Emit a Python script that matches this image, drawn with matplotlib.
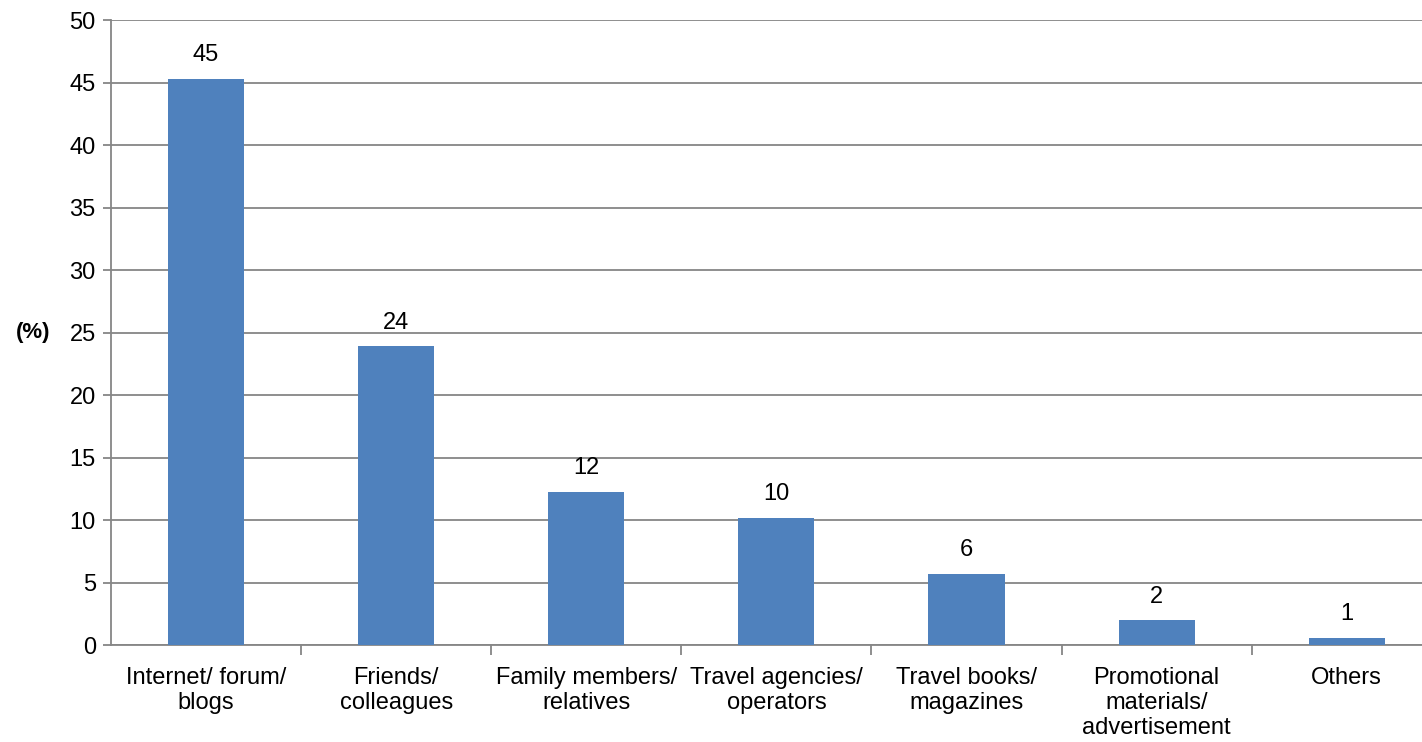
import matplotlib.pyplot as plt
import numpy as np

plt.rcParams['font.family'] = ['Liberation Sans', 'DejaVu Sans']

categories = ['Internet/ forum/\nblogs', 'Friends/\ncolleagues', 'Family members/\nrelatives',
              'Travel agencies/\noperators', 'Travel books/\nmagazines',
              'Promotional\nmaterials/\nadvertisement', 'Others']
shares = [45.3, 23.9, 12.25, 10.2, 5.7, 1.98, 0.58]

fig = plt.figure(figsize=(14.22, 7.42), dpi=100)
ax = fig.add_axes([0.0781, 0.1307, 0.9358, 0.8423])

x = np.arange(len(categories))
bars = ax.bar(x, shares, width=0.4, color='#4F81BD', zorder=3)

for xi, v in zip(x, shares):
    ax.annotate(f'{v:.0f}', (xi, v), xytext=(0, 9), textcoords='offset points',
                ha='center', va='bottom', fontsize=17)

ax.set_xlim(-0.5, len(categories) - 0.5)
ax.set_ylim(0, 50)
ax.set_yticks(np.arange(0, 51, 5))
ax.set_xticks(x)
ax.set_xticklabels(categories, fontsize=17, linespacing=1.17)
ax.set_xticks(np.arange(0.5, len(categories) - 0.5), minor=True)
ax.tick_params(axis='x', which='major', length=0, pad=16)
ax.tick_params(axis='x', which='minor', length=7, color='#868686', width=1.3)
ax.tick_params(axis='y', labelsize=17, length=6, color='#868686', width=1.3, pad=5)

ax.yaxis.grid(True, color='#868686', linewidth=1.3, zorder=0)
for side in ['top', 'right']:
    ax.spines[side].set_visible(False)
for side in ['left', 'bottom']:
    ax.spines[side].set_color('#868686')
    ax.spines[side].set_linewidth(1.3)

ax.set_ylabel('(%)', rotation=0, fontsize=16, fontweight='bold', va='center', ha='center')
ax.yaxis.set_label_coords(-0.0586, 0.5)

fig.savefig('out.png', dpi=100)
